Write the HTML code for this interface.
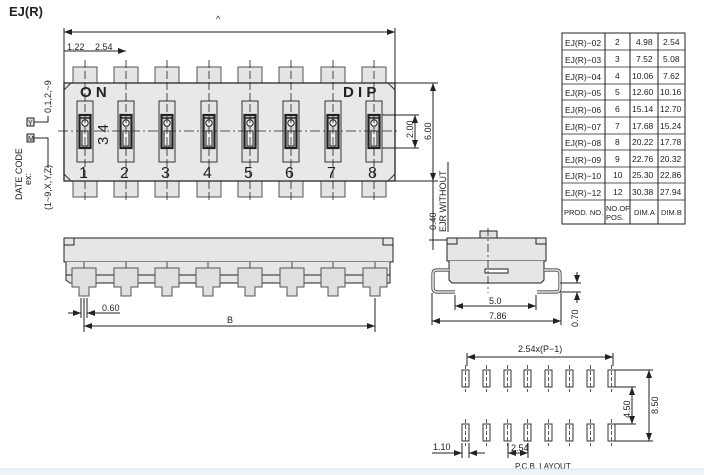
<!DOCTYPE html>
<html><head><meta charset="utf-8"><style>
html,body{margin:0;padding:0;background:#fff;width:704px;height:475px;overflow:hidden}
svg{display:block}
text{font-family:"Liberation Sans",sans-serif;fill:#222}
</style></head><body>
<svg width="704" height="475" viewBox="0 0 704 475" xmlns="http://www.w3.org/2000/svg">
<defs>
<marker id="ar" markerWidth="8" markerHeight="6" refX="8" refY="3" orient="auto-start-reverse" markerUnits="userSpaceOnUse"><path d="M0,0 L8,3 L0,6 z" fill="#222"/></marker>
<g id="sw">
<rect x="0" y="0" width="16" height="61" fill="#e4e4e4" stroke="#333" stroke-width="1"/>
<rect x="2.5" y="14" width="11" height="33" fill="#d8d8d8" stroke="#222" stroke-width="2.2"/>
<line x1="3" y1="17" x2="13" y2="17" stroke="#222" stroke-width="1.5"/>
<circle cx="8" cy="22" r="3.2" fill="#eee" stroke="#222"/>
<rect x="5" y="30" width="6" height="15" fill="#eee" stroke="#222"/>
</g>
<g id="tp"><rect x="0" y="0" width="24" height="16" fill="#e4e4e4" stroke="#555"/></g>
<g id="fp"><path d="M0,0 H24 V19 H17 V28 H7 V19 H0 Z" fill="#e0e0e0" stroke="#555"/></g>
<g id="pad"><rect x="0" y="0" width="7" height="17" fill="#fff" stroke="#333"/><line x1="3.5" y1="-5" x2="3.5" y2="22" stroke="#333" stroke-dasharray="4,2" stroke-width="0.8"/></g>
</defs>
<g stroke="#222" fill="none" stroke-width="1">
<text x="9" y="16" font-size="13" font-weight="bold" stroke="none">EJ(R)</text>
<text x="216" y="22" font-size="9" stroke="none">^</text>
<line x1="64" y1="32" x2="395" y2="32" marker-start="url(#ar)" marker-end="url(#ar)"/>
<line x1="64" y1="28" x2="64" y2="83"/><line x1="395" y1="28" x2="395" y2="83"/>
<line x1="64" y1="51" x2="126" y2="51" marker-end="url(#ar)"/>
<text x="67" y="50" font-size="9" stroke="none">1.22</text><text x="95" y="50" font-size="9" stroke="none">2.54</text>
<use href="#tp" x="73" y="67"/><use href="#tp" x="114" y="67"/><use href="#tp" x="155" y="67"/><use href="#tp" x="197" y="67"/><use href="#tp" x="238" y="67"/><use href="#tp" x="279" y="67"/><use href="#tp" x="321" y="67"/><use href="#tp" x="362" y="67"/>
<use href="#tp" x="73" y="181"/><use href="#tp" x="114" y="181"/><use href="#tp" x="155" y="181"/><use href="#tp" x="197" y="181"/><use href="#tp" x="238" y="181"/><use href="#tp" x="279" y="181"/><use href="#tp" x="321" y="181"/><use href="#tp" x="362" y="181"/>
<path d="M64,83 H395 V181 H64 Z" fill="#e8e8e8" stroke="#222" stroke-width="1.3"/>
<path d="M64,90 L71,83 M388,83 L395,90 M64,174 L71,181 M388,181 L395,174" stroke="#333"/>
<text x="80" y="97" font-size="15" font-weight="bold" stroke="none">O N</text>
<text x="343" y="97" font-size="15" font-weight="bold" stroke="none">D I P</text>
<use href="#sw" x="77" y="101"/><use href="#sw" x="118" y="101"/><use href="#sw" x="159" y="101"/><use href="#sw" x="201" y="101"/><use href="#sw" x="242" y="101"/><use href="#sw" x="283" y="101"/><use href="#sw" x="325" y="101"/><use href="#sw" x="366" y="101"/>
<text transform="translate(108,145) rotate(-90)" font-size="15" stroke="none">3 4</text>
<g font-size="16" stroke="none"><text x="79" y="178">1</text><text x="120" y="178">2</text><text x="161" y="178">3</text><text x="203" y="178">4</text><text x="244" y="178">5</text><text x="285" y="178">6</text><text x="327" y="178">7</text><text x="368" y="178">8</text></g>
<line x1="58" y1="131" x2="400" y2="131" stroke-dasharray="10,3,2,3" stroke-width="0.8"/>
<g stroke-dasharray="8,3" stroke-width="0.8"><line x1="85" y1="60" x2="85" y2="202"/><line x1="126" y1="60" x2="126" y2="202"/><line x1="167" y1="60" x2="167" y2="202"/><line x1="209" y1="60" x2="209" y2="202"/><line x1="250" y1="60" x2="250" y2="202"/><line x1="291" y1="60" x2="291" y2="202"/><line x1="333" y1="60" x2="333" y2="202"/><line x1="374" y1="60" x2="374" y2="202"/></g>
<line x1="395" y1="83" x2="438" y2="83"/><line x1="395" y1="181" x2="438" y2="181"/>
<line x1="433" y1="83" x2="433" y2="181" marker-start="url(#ar)" marker-end="url(#ar)"/>
<text transform="translate(431,140) rotate(-90)" font-size="9" stroke="none">6.00</text>
<line x1="382" y1="115" x2="419" y2="115"/><line x1="382" y1="148" x2="419" y2="148"/>
<line x1="415" y1="115" x2="415" y2="148" marker-start="url(#ar)" marker-end="url(#ar)"/>
<text transform="translate(413,138) rotate(-90)" font-size="9" stroke="none">2.00</text>
<line x1="433" y1="181" x2="433" y2="250"/><line x1="429" y1="240" x2="448" y2="240"/>
<text transform="translate(436,230) rotate(-90)" font-size="9" stroke="none">0.40</text>
<text transform="translate(446,232) rotate(-90)" font-size="9" stroke="none">EJR  WITHOUT</text>
<line x1="448" y1="162" x2="448" y2="232"/>
<rect x="27" y="118" width="7" height="8" fill="#ddd"/><text x="28" y="125" font-size="7" stroke="none">Y</text>
<rect x="27" y="134" width="7" height="8" fill="#ddd"/><text x="28" y="141" font-size="7" stroke="none">M</text>
<path d="M34,122 H48 V116"/><path d="M34,138 H48 V168"/>
<text transform="translate(51,113) rotate(-90)" font-size="9" stroke="none">0,1,2,~9</text>
<text transform="translate(22,200) rotate(-90)" font-size="9" stroke="none">DATE  CODE</text>
<text transform="translate(31,185) rotate(-90)" font-size="9" stroke="none">ex:</text>
<text transform="translate(51,210) rotate(-90)" font-size="9" stroke="none">(1~9,X,Y,Z)</text>
<rect x="64" y="238" width="329" height="24" fill="#e6e6e6" stroke="#222"/>
<rect x="64" y="238" width="10" height="7" fill="#e6e6e6"/><rect x="383" y="238" width="10" height="7" fill="#e6e6e6"/>
<path d="M66,262 V280 L70,283 H390 V262" fill="#e6e6e6"/>
<line x1="66" y1="275" x2="390" y2="275"/>
<g stroke-width="0.8"><line x1="84" y1="262" x2="84" y2="268"/><line x1="126" y1="262" x2="126" y2="268"/><line x1="167" y1="262" x2="167" y2="268"/><line x1="208" y1="262" x2="208" y2="268"/><line x1="250" y1="262" x2="250" y2="268"/><line x1="292" y1="262" x2="292" y2="268"/><line x1="333" y1="262" x2="333" y2="268"/><line x1="375" y1="262" x2="375" y2="268"/></g>
<use href="#fp" x="72" y="268"/><use href="#fp" x="114" y="268"/><use href="#fp" x="155" y="268"/><use href="#fp" x="196" y="268"/><use href="#fp" x="238" y="268"/><use href="#fp" x="280" y="268"/><use href="#fp" x="321" y="268"/><use href="#fp" x="363" y="268"/>
<line x1="81" y1="298" x2="81" y2="318"/><line x1="87" y1="298" x2="87" y2="318"/><line x1="84" y1="298" x2="84" y2="332"/><line x1="375" y1="298" x2="375" y2="332"/>
<line x1="68" y1="313" x2="81" y2="313" marker-end="url(#ar)"/><line x1="120" y1="313" x2="87" y2="313" marker-end="url(#ar)"/>
<text x="102" y="311" font-size="9" stroke="none">0.60</text>
<line x1="84" y1="326" x2="375" y2="326" marker-start="url(#ar)" marker-end="url(#ar)"/>
<text x="227" y="323" font-size="9" stroke="none">B</text>
<rect x="480" y="231" width="17" height="7" fill="#e0e0e0"/>
<rect x="447" y="238" width="99" height="23" fill="#e6e6e6"/>
<rect x="447" y="238" width="10" height="6" fill="#e6e6e6"/><rect x="536" y="238" width="10" height="6" fill="#e6e6e6"/>
<path d="M449,261 V280 L452,283 H541 L544,280 V261" fill="#e6e6e6"/>
<rect x="485" y="269" width="23" height="4" fill="#fff"/>
<path d="M449,270 H437 Q433,270 433,274 V288 Q433,292 437,292 H455 M544,270 H556 Q560,270 560,274 V288 Q560,292 556,292 H537" stroke-width="3.2" stroke="#444"/>
<path d="M449,270 H437 Q433,270 433,274 V288 Q433,292 437,292 H455 M544,270 H556 Q560,270 560,274 V288 Q560,292 556,292 H537" stroke-width="1.6" stroke="#e6e6e6"/>
<line x1="488" y1="228" x2="488" y2="293" stroke-dasharray="8,3,2,3" stroke-width="0.8"/>
<line x1="455" y1="295" x2="455" y2="310"/><line x1="536" y1="295" x2="536" y2="310"/>
<line x1="455" y1="306" x2="536" y2="306" marker-start="url(#ar)" marker-end="url(#ar)"/><text x="489" y="304" font-size="9" stroke="none">5.0</text>
<line x1="432" y1="293" x2="432" y2="325"/><line x1="561" y1="293" x2="561" y2="325"/>
<line x1="432" y1="321" x2="561" y2="321" marker-start="url(#ar)" marker-end="url(#ar)"/><text x="489" y="319" font-size="9" stroke="none">7.86</text>
<line x1="560" y1="283" x2="581" y2="283"/><line x1="560" y1="292" x2="581" y2="292"/>
<line x1="577" y1="272" x2="577" y2="283" marker-end="url(#ar)"/><line x1="577" y1="303" x2="577" y2="292" marker-end="url(#ar)"/>
<text transform="translate(578,327) rotate(-90)" font-size="9" stroke="none">0.70</text>
<rect x="562" y="33" width="123" height="191"/>
<line x1="605" y1="33" x2="605" y2="224"/><line x1="630" y1="33" x2="630" y2="224"/><line x1="658" y1="33" x2="658" y2="224"/>
<g stroke-width="0.8"><line x1="562" y1="50" x2="685" y2="50"/><line x1="562" y1="67" x2="685" y2="67"/><line x1="562" y1="84" x2="685" y2="84"/><line x1="562" y1="100" x2="685" y2="100"/><line x1="562" y1="117" x2="685" y2="117"/><line x1="562" y1="134" x2="685" y2="134"/><line x1="562" y1="150" x2="685" y2="150"/><line x1="562" y1="167" x2="685" y2="167"/><line x1="562" y1="183" x2="685" y2="183"/><line x1="562" y1="200" x2="685" y2="200"/></g>
<g font-size="8.5" stroke="none">
<text x="565" y="46">EJ(R)−02</text><text x="615" y="45">2</text><text x="636" y="45">4.98</text><text x="663" y="45">2.54</text>
<text x="565" y="63">EJ(R)−03</text><text x="615" y="62">3</text><text x="636" y="62">7.52</text><text x="663" y="62">5.08</text>
<text x="565" y="80">EJ(R)−04</text><text x="615" y="79">4</text><text x="632" y="79">10.06</text><text x="663" y="79">7.62</text>
<text x="565" y="96">EJ(R)−05</text><text x="615" y="95">5</text><text x="632" y="95">12.60</text><text x="660" y="95">10.16</text>
<text x="565" y="113">EJ(R)−06</text><text x="615" y="112">6</text><text x="632" y="112">15.14</text><text x="660" y="112">12.70</text>
<text x="565" y="130">EJ(R)−07</text><text x="615" y="129">7</text><text x="632" y="129">17.68</text><text x="660" y="129">15.24</text>
<text x="565" y="146">EJ(R)−08</text><text x="615" y="145">8</text><text x="632" y="145">20.22</text><text x="660" y="145">17.78</text>
<text x="565" y="163">EJ(R)−09</text><text x="615" y="162">9</text><text x="632" y="162">22.76</text><text x="660" y="162">20.32</text>
<text x="565" y="179">EJ(R)−10</text><text x="613" y="178">10</text><text x="632" y="178">25.30</text><text x="660" y="178">22.86</text>
<text x="565" y="196">EJ(R)−12</text><text x="613" y="195">12</text><text x="632" y="195">30.38</text><text x="660" y="195">27.94</text>
<text x="564" y="215" font-size="7.5">PROD. NO.</text><text x="606" y="211" font-size="7.5">NO.OF</text><text x="606" y="220" font-size="7.5">POS.</text><text x="634" y="215" font-size="7.5">DIM.A</text><text x="661" y="215" font-size="7.5">DIM.B</text>
</g>
<text x="518" y="352" font-size="9" stroke="none">2.54x(P−1)</text>
<line x1="467" y1="357" x2="613" y2="357" marker-start="url(#ar)" marker-end="url(#ar)"/>
<line x1="467" y1="353" x2="467" y2="366"/><line x1="613" y1="353" x2="613" y2="366"/>
<use href="#pad" x="462" y="370"/><use href="#pad" x="483" y="370"/><use href="#pad" x="504" y="370"/><use href="#pad" x="524" y="370"/><use href="#pad" x="545" y="370"/><use href="#pad" x="566" y="370"/><use href="#pad" x="587" y="370"/><use href="#pad" x="608" y="370"/>
<use href="#pad" x="462" y="424"/><use href="#pad" x="483" y="424"/><use href="#pad" x="504" y="424"/><use href="#pad" x="524" y="424"/><use href="#pad" x="545" y="424"/><use href="#pad" x="566" y="424"/><use href="#pad" x="587" y="424"/><use href="#pad" x="608" y="424"/>
<line x1="615" y1="370" x2="653" y2="370"/><line x1="615" y1="441" x2="653" y2="441"/>
<line x1="649" y1="370" x2="649" y2="441" marker-start="url(#ar)" marker-end="url(#ar)"/>
<text transform="translate(658,414) rotate(-90)" font-size="9" stroke="none">8.50</text>
<line x1="615" y1="387" x2="636" y2="387"/><line x1="615" y1="424" x2="636" y2="424"/>
<line x1="632" y1="387" x2="632" y2="424" marker-start="url(#ar)" marker-end="url(#ar)"/>
<text transform="translate(630,418) rotate(-90)" font-size="9" stroke="none">4.50</text>
<line x1="462" y1="443" x2="462" y2="458"/><line x1="469" y1="443" x2="469" y2="458"/>
<line x1="432" y1="453" x2="462" y2="453" marker-end="url(#ar)"/><line x1="485" y1="453" x2="469" y2="453" marker-end="url(#ar)"/>
<text x="433" y="450" font-size="9" stroke="none">1.10</text>
<line x1="508" y1="443" x2="508" y2="458"/><line x1="528" y1="443" x2="528" y2="458"/>
<line x1="508" y1="453" x2="528" y2="453" marker-start="url(#ar)" marker-end="url(#ar)"/>
<text x="511" y="451" font-size="9" stroke="none">2.54</text>
<text x="515" y="469" font-size="8" stroke="none">P.C.B.  LAYOUT</text>
</g>
<rect x="0" y="469" width="704" height="6" fill="#eef3f8"/>
<line x1="0" y1="469" x2="704" y2="469" stroke="#dde5ee"/>
</svg>
</body></html>
